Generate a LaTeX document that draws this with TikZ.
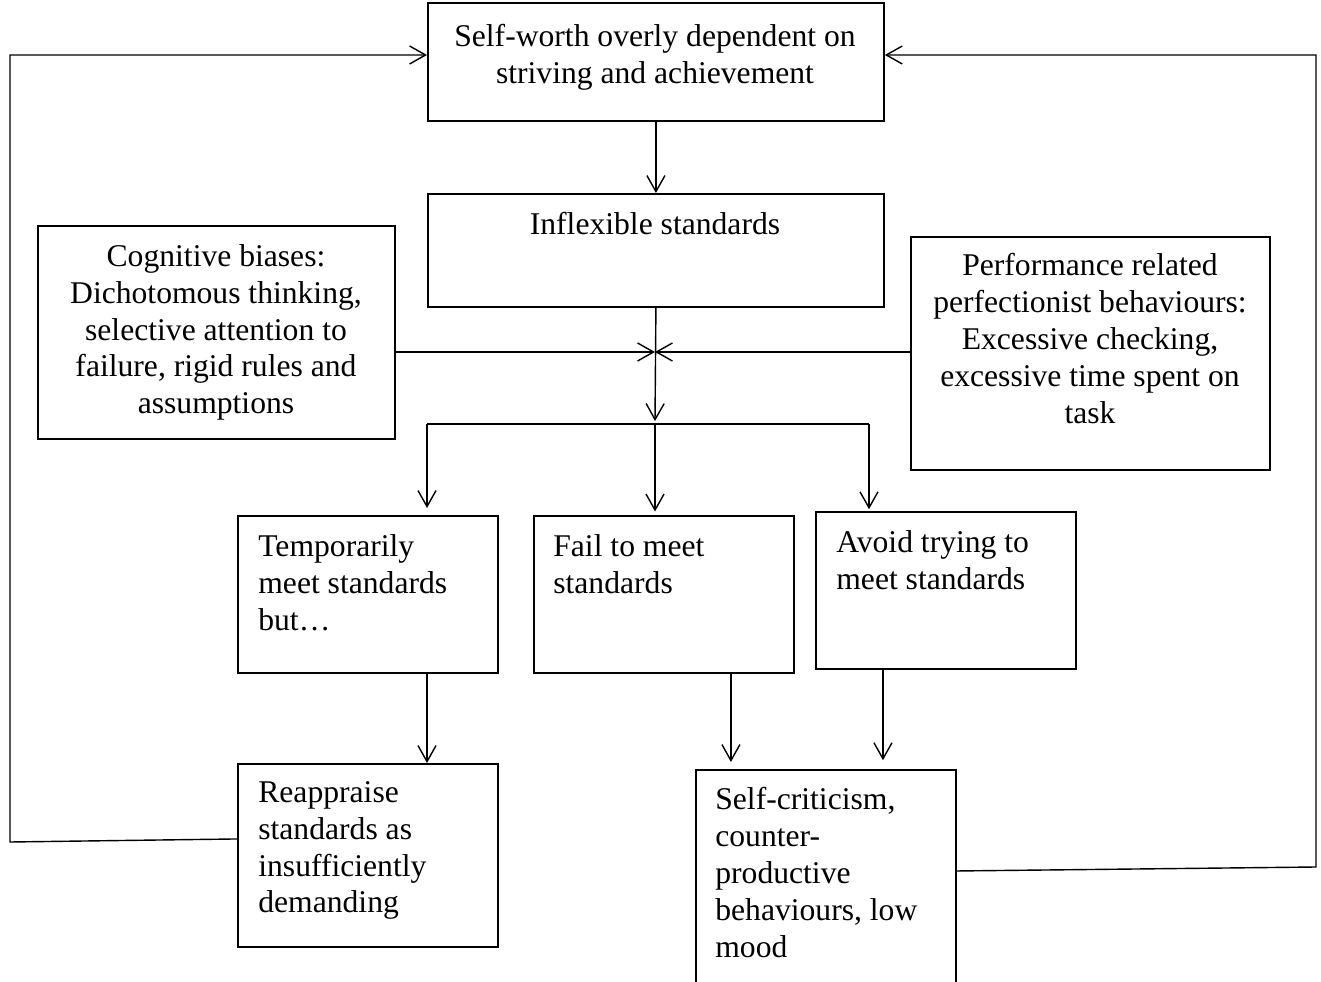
\documentclass[tikz,border=0pt]{standalone}
\usepackage{fontspec}
\setmainfont{Liberation Serif}
\usetikzlibrary{arrows.meta}

\begin{document}
\begin{tikzpicture}
    [ x=0.02cm, y=-0.02cm
    , every node/.style={inner sep=0pt, font=\fontsize{18}{21}\selectfont}
    , box/.style={draw, line width=1.1pt, anchor=north west}
    , txt/.style={align=center, anchor=north}
    , ltxt/.style={align=left, anchor=north west}
    , line/.style={line width=0.8pt}
    , link/.style={line, -{Straight Barb[length=0.32cm,width=0.36cm]}}
    ]
\clip (0,0) rectangle (1321,982);
% boxes
\node[box, minimum width=9.12cm, minimum height=2.36cm] (worth) at (427,2) {};
\node[box, minimum width=9.12cm, minimum height=2.26cm] (infl) at (427,193) {};
\node[box, minimum width=7.14cm, minimum height=4.26cm] (cog) at (37,225) {};
\node[box, minimum width=7.18cm, minimum height=4.66cm] (perf) at (910,236) {};
\node[box, minimum width=5.2cm, minimum height=3.14cm] (temp) at (237,515) {};
\node[box, minimum width=5.2cm, minimum height=3.14cm] (fail) at (533,515) {};
\node[box, minimum width=5.2cm, minimum height=3.14cm] (avoid) at (815,511) {};
\node[box, minimum width=5.2cm, minimum height=3.66cm] (reap) at (237,763) {};
\node[box, minimum width=5.2cm, minimum height=4.8cm] (self) at (695,769) {};
% texts
\node[txt] at (655,24) {Self-worth overly dependent on\\striving and achievement};
\node[txt] at (655,212) {Inflexible standards};
\node[txt] at (216,244) {Cognitive biases:\\Dichotomous thinking,\\selective attention to\\failure, rigid rules and\\assumptions};
\node[txt] at (1090,253) {Performance related\\perfectionist behaviours:\\Excessive checking,\\excessive time spent on\\task};
\node[ltxt] at (258,534) {Temporarily\\meet standards\\but\dots};
\node[ltxt] at (553,534) {Fail to meet\\standards};
\node[ltxt] at (836,530) {Avoid trying to\\meet standards};
\node[ltxt] at (258,781) {Reappraise\\standards as\\insufficiently\\demanding};
\node[ltxt] at (715,787) {Self-criticism,\\counter-\\productive\\behaviours, low\\mood};
% junctions
\coordinate (hub) at (655,352);
\coordinate (split) at (655,421);
\coordinate (bl) at (427,424);
\coordinate (br) at (869,424);
\coordinate (lb) at (10,842);
\coordinate (lt) at (10,55);
\coordinate (rb) at (1316,867);
\coordinate (rt) at (1316,55);
% connectors
\draw[link] (worth.south) -- (infl.north);
\draw[link] (infl.south) -- (split);
\draw[link] (cog.east |- hub) -- (hub);
\draw[link] (perf.west |- hub) -- (hub);
\draw[line] (bl) -- (br);
\draw[link, shorten >=4pt] (bl) -- (bl |- temp.north);
\draw[link, shorten >=2pt] ([yshift=-0.04cm]split) -- (split |- fail.north);
\draw[link, shorten >=1pt] (br) -- (br |- avoid.north);
\draw[link] (bl |- temp.south) -- (bl |- reap.north);
\draw[link, shorten >=4pt] ([xshift=1.34cm]fail.south) -- ([xshift=1.34cm]fail.south |- self.north);
\draw[link, shorten >=5pt] ([xshift=-1.26cm]avoid.south) -- ([xshift=-1.26cm]avoid.south |- self.north);
\draw[link] ([yshift=0.33cm]reap.west) -- (lb) -- (lt) -- (lt -| worth.west);
\draw[link] ([yshift=-2.04cm]self.north east) -- (rb) -- (rt) -- (rt -| worth.east);
\end{tikzpicture}
\end{document}
